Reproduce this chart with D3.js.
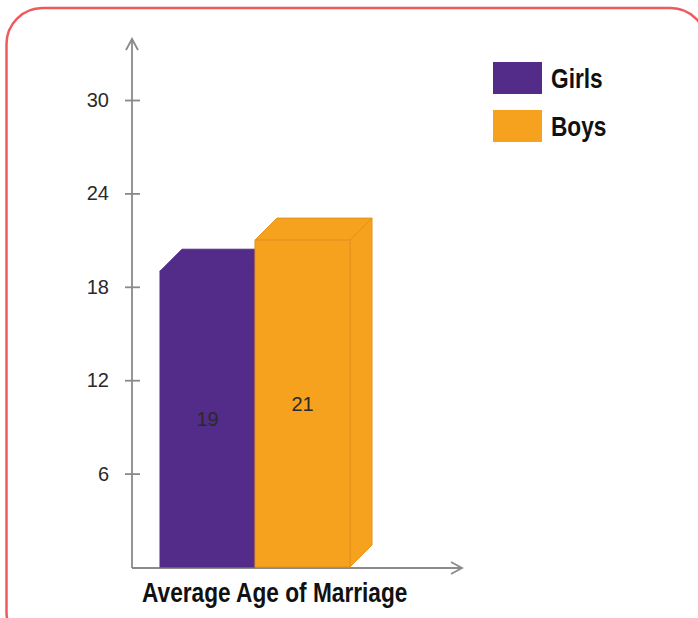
<!DOCTYPE html>
<html>
<head>
<meta charset="utf-8">
<script src="https://cdn.jsdelivr.net/npm/d3@7"></script>
<style>
  body { margin: 0; background: #fff; }
  svg { display: block; font-family: "Liberation Sans", Arial, sans-serif; }
</style>
</head>
<body>
<svg id="chart" width="698" height="618"></svg>
<script>
var categories = ["Girls", "Boys"]
var values = [19, 21]
var colors = ["#532b88", "#f6a21f"]
var edgeColors = ["#532b88", "#e3921a"]
var yTicks = [6, 12, 18, 24, 30]
var axisTitle = "Average Age of Marriage"

var svg = d3.select("#chart")

// rounded frame
svg.append("rect")
  .attr("x", 6.5).attr("y", 8)
  .attr("width", 700).attr("height", 640)
  .attr("rx", 36).attr("ry", 36)
  .attr("fill", "none")
  .attr("stroke", "#f0595c")
  .attr("stroke-width", 2.5)

var originX = 132
var y = d3.scaleLinear().domain([0, 30]).range([567, 100])
var x = d3.scaleBand().domain(categories).range([160, 350]).padding(0)
var depth = 22

var data = categories.map((c, i) => ({ name: c, value: values[i], color: colors[i], edge: edgeColors[i] }))

// axes lines with arrows
var axisColor = "#8a8a8a"
svg.append("line").attr("x1", originX).attr("x2", originX).attr("y1", 568).attr("y2", 40)
  .attr("stroke", axisColor).attr("stroke-width", 1.8)
svg.append("path").attr("d", `M${originX - 6},50 L${originX},39 L${originX + 6},50`)
  .attr("fill", "none").attr("stroke", axisColor).attr("stroke-width", 1.8)
svg.append("line").attr("x1", originX).attr("x2", 462).attr("y1", 568).attr("y2", 568)
  .attr("stroke", axisColor).attr("stroke-width", 1.8)
svg.append("path").attr("d", `M451,562 L462,568 L451,574`)
  .attr("fill", "none").attr("stroke", axisColor).attr("stroke-width", 1.8)

var yAxis = d3.axisLeft(y).tickValues(yTicks).tickSize(7).tickPadding(16)
var gy = svg.append("g").attr("transform", "translate(" + originX + ",0)").call(yAxis)
gy.select(".domain").remove()
gy.selectAll(".tick line").attr("x1", -7).attr("x2", 8).attr("stroke", axisColor).attr("stroke-width", 1.8)
gy.selectAll(".tick text")
  .attr("fill", "#2a2a2a")
  .style("font-size", "20px")
  .style("font-family", "'Liberation Sans', Arial, sans-serif")

// 3D bars
var bars = svg.append("g")
data.forEach(function (d) {
  var x0 = x(d.name), x1 = x0 + x.bandwidth(), yt = y(d.value), yb = y(0)
  // side face
  bars.append("path")
    .attr("d", `M${x1},${yt} L${x1 + depth},${yt - depth} L${x1 + depth},${yb - depth} L${x1},${yb} Z`)
    .attr("fill", d.color).attr("stroke", d.edge).attr("stroke-width", 1)
  // top face
  bars.append("path")
    .attr("d", `M${x0},${yt} L${x0 + depth},${yt - depth} L${x1 + depth},${yt - depth} L${x1},${yt} Z`)
    .attr("fill", d.color).attr("stroke", d.edge).attr("stroke-width", 1)
  // front face
  bars.append("rect")
    .attr("x", x0).attr("y", yt).attr("width", x.bandwidth()).attr("height", yb - yt)
    .attr("fill", d.color).attr("stroke", d.edge).attr("stroke-width", 1)
})

// value labels
svg.selectAll(".val").data(data).enter().append("text")
  .attr("class", "val")
  .attr("x", d => x(d.name) + x.bandwidth() / 2)
  .attr("y", d => (y(d.value) + y(0)) / 2 + 7)
  .attr("text-anchor", "middle")
  .style("font-size", "20px")
  .attr("fill", "#2a2a2a")
  .text(d => d.value)

// x axis title (condensed bold)
svg.append("text")
  .attr("transform", "translate(142,602) scale(0.84,1)")
  .attr("font-size", 27)
  .attr("font-weight", "bold")
  .attr("fill", "#111")
  .text(axisTitle)

// legend
var legend = svg.append("g").attr("transform", "translate(493,62)")
var items = legend.selectAll("g").data(data).enter().append("g")
  .attr("transform", (d, i) => "translate(0," + i * 48 + ")")
items.append("rect").attr("width", 49).attr("height", 32).attr("fill", d => d.color)
items.append("text")
  .attr("transform", "translate(58,26) scale(0.84,1)")
  .attr("font-size", 27)
  .attr("font-weight", "bold")
  .attr("fill", "#111")
  .text(d => d.name)
</script>
</body>
</html>
